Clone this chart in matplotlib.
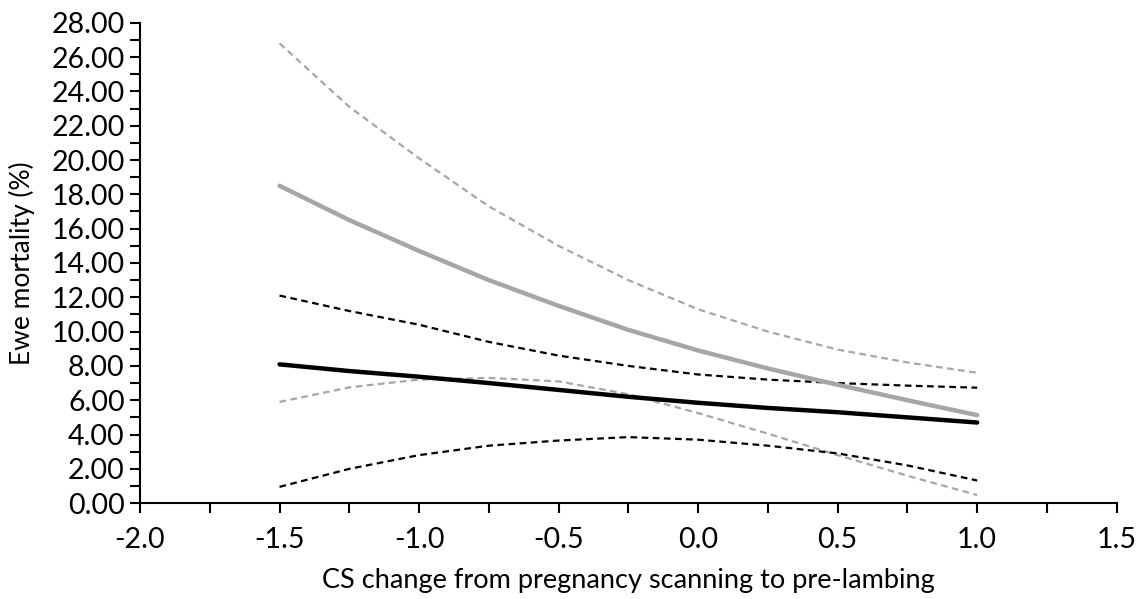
import matplotlib
matplotlib.use("Agg")
import matplotlib.pyplot as plt
from matplotlib.ticker import MultipleLocator, FormatStrFormatter

plt.rcParams['font.family'] = ['Lato', 'DejaVu Sans']

cs_change = [-1.5, -1.25, -1.0, -0.75, -0.5, -0.25, 0.0, 0.25, 0.5, 0.75, 1.0]

grey_mean  = [18.5, 16.5, 14.7, 13.0, 11.5, 10.1, 8.9, 7.85, 6.9, 6.0, 5.13]
grey_upper = [26.8, 23.1, 20.1, 17.3, 15.0, 13.0, 11.3, 10.0, 8.95, 8.2, 7.6]
grey_lower = [5.9, 6.75, 7.2, 7.3, 7.1, 6.35, 5.25, 4.05, 2.8, 1.6, 0.47]

black_mean  = [8.09, 7.7, 7.37, 7.0, 6.6, 6.2, 5.85, 5.55, 5.3, 5.0, 4.7]
black_upper = [12.1, 11.2, 10.4, 9.4, 8.6, 8.0, 7.5, 7.2, 7.0, 6.85, 6.73]
black_lower = [0.95, 2.0, 2.8, 3.35, 3.65, 3.85, 3.7, 3.35, 2.9, 2.2, 1.32]

GREY = '#A6A6A6'

fig = plt.figure(figsize=(11.41, 5.99), dpi=100)
ax = fig.add_axes([0.1227, 0.160, 0.856, 0.802])

ax.plot(cs_change, grey_upper, color=GREY, lw=1.6, ls=(0, (3, 2)))
ax.plot(cs_change, grey_lower, color=GREY, lw=1.6, ls=(0, (3, 2)))
ax.plot(cs_change, black_upper, color='black', lw=1.6, ls=(0, (3, 2)))
ax.plot(cs_change, black_lower, color='black', lw=1.6, ls=(0, (3, 2)))
ax.plot(cs_change, grey_mean, color=GREY, lw=3.2, solid_capstyle='round')
ax.plot(cs_change, black_mean, color='black', lw=3.2, solid_capstyle='round')

ax.set_xlim(-2.0, 1.5)
ax.set_ylim(0, 28)
ax.xaxis.set_major_locator(MultipleLocator(0.5))
ax.xaxis.set_minor_locator(MultipleLocator(0.25))
ax.yaxis.set_major_locator(MultipleLocator(2))
ax.yaxis.set_minor_locator(MultipleLocator(1))
ax.xaxis.set_major_formatter(FormatStrFormatter('%.1f'))
ax.yaxis.set_major_formatter(FormatStrFormatter('%.2f'))

for s in ['top', 'right']:
    ax.spines[s].set_visible(False)
for s in ['left', 'bottom']:
    ax.spines[s].set_linewidth(1.5)

ax.tick_params(axis='both', which='major', direction='out', length=7, width=1.5, labelsize=20.5, pad=4)
ax.tick_params(axis='both', which='minor', direction='out', length=7, width=1.5)
ax.tick_params(axis='x', which='major', pad=10)

ax.set_xlabel('CS change from pregnancy scanning to pre-lambing', fontsize=19.5)
ax.set_ylabel('Ewe mortality (%)', fontsize=19)
ax.xaxis.set_label_coords(0.5, -0.135)
ax.yaxis.set_label_coords(-0.107, 0.5)

fig.savefig('out.png', dpi=100)
